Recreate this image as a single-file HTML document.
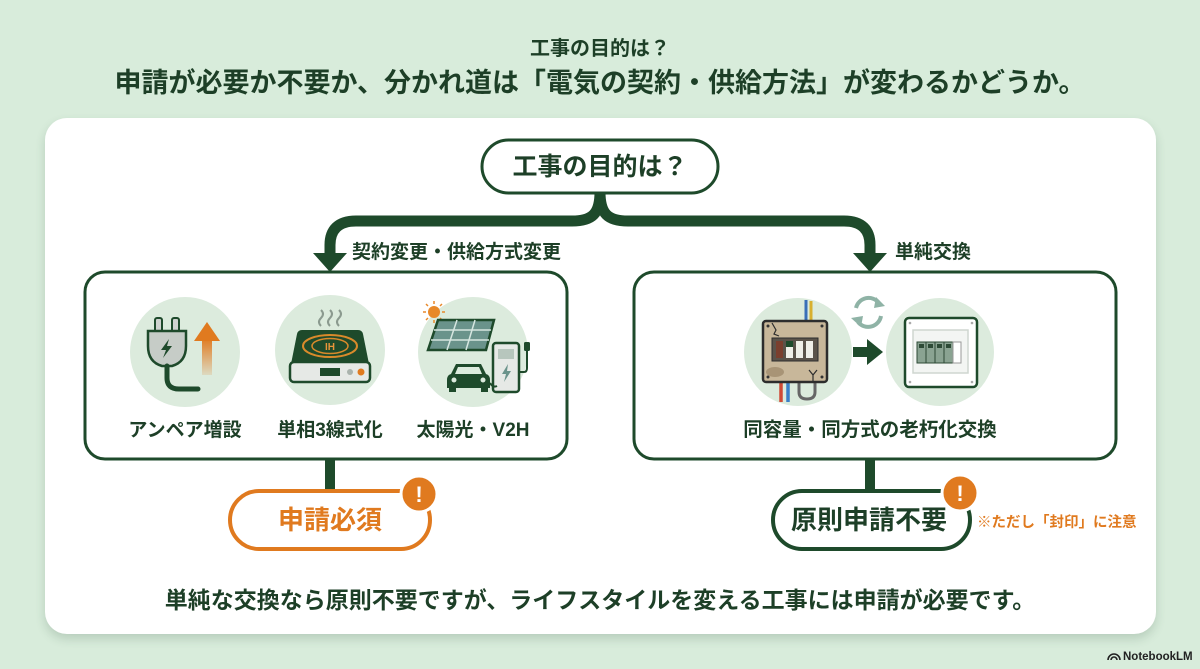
<!DOCTYPE html>
<html><head><meta charset="utf-8">
<style>
html,body{margin:0;padding:0;}
body{width:1200px;height:669px;overflow:hidden;background:#d8ecdb;position:relative;font-family:"Liberation Sans","Noto Sans CJK JP",sans-serif;}
.card{position:absolute;left:45px;top:118px;width:1111px;height:516px;border-radius:22px;background:#fff;box-shadow:0 5px 10px rgba(40,70,50,0.18);}
svg{position:absolute;left:0;top:0;}
text{font-family:"Liberation Sans","Noto Sans CJK JP",sans-serif;font-weight:700;}
</style></head><body>
<div class="card"></div>
<svg width="1200" height="669" viewBox="0 0 1200 669">
  <!-- Titles -->
  <text x="600" y="55" font-size="20" fill="#1d3f27" text-anchor="middle">工事の目的は？</text>
  <text x="600" y="92" font-size="27" fill="#1d3f27" text-anchor="middle">申請が必要か不要か、分かれ道は「電気の契約・供給方法」が変わるかどうか。</text>

  <!-- top connector -->
  <g stroke="#1e4a2b" stroke-width="11" fill="none">
    <path d="M600,192 C600,214 592,221 572,221 L356,221 C338,221 330,230 330,245 L330,255"/>
    <path d="M600,192 C600,214 608,221 628,221 L844,221 C862,221 870,230 870,245 L870,255"/>
  </g>
  <polygon points="313,253 347,253 330,272" fill="#1e4a2b"/>
  <polygon points="853,253 887,253 870,272" fill="#1e4a2b"/>

  <!-- top pill -->
  <rect x="482" y="140" width="236" height="53" rx="26.5" fill="#fff" stroke="#1e4a2b" stroke-width="3"/>
  <text x="600" y="175" font-size="25" fill="#1d3f27" text-anchor="middle">工事の目的は？</text>

  <!-- branch labels -->
  <text x="352" y="258" font-size="19" fill="#1d3f27">契約変更・供給方式変更</text>
  <text x="895" y="258" font-size="19" fill="#1d3f27">単純交換</text>

  <!-- boxes -->
  <rect x="85" y="272" width="482" height="187" rx="20" fill="#fff" stroke="#1e4a2b" stroke-width="3"/>
  <rect x="634" y="272" width="482" height="187" rx="20" fill="#fff" stroke="#1e4a2b" stroke-width="3"/>

  <!-- circles -->
  <g fill="#dcebdd">
    <circle cx="185" cy="352" r="55"/>
    <circle cx="330" cy="350" r="55"/>
    <circle cx="473" cy="352" r="55"/>
    <circle cx="798" cy="352" r="54"/>
    <circle cx="940" cy="352" r="54"/>
  </g>

  <!-- plug icon -->
  <defs>
    <linearGradient id="og" x1="0" y1="0" x2="0" y2="1">
      <stop offset="0" stop-color="#e07a1f"/>
      <stop offset="1" stop-color="#e07a1f" stop-opacity="0.15"/>
    </linearGradient>
  </defs>
  <rect x="155" y="318" width="7" height="15" rx="2" fill="#cfd3cf" stroke="#1e4a2b" stroke-width="2"/>
  <rect x="172" y="318" width="7" height="15" rx="2" fill="#cfd3cf" stroke="#1e4a2b" stroke-width="2"/>
  <path d="M148,331 H186 V346 Q186,362 172,366 H162 Q148,362 148,346 Z" fill="#c6ccc7" stroke="#1e4a2b" stroke-width="2.5"/>
  <polygon points="169,339 161,350 166,350 163,358 172,346 167,346" fill="#1e4a2b"/>
  <path d="M167,366 V378 Q167,389 179,389 H198" stroke="#1e4a2b" stroke-width="5" fill="none" stroke-linecap="round"/>
  <rect x="202" y="338" width="10" height="37" fill="url(#og)"/>
  <polygon points="194,341 220,341 207,322" fill="#e07a1f"/>

  <!-- IH icon -->
  <g stroke="#8b9a8f" stroke-width="2" fill="none">
    <path d="M321,326 q-4,-4 0,-8 q4,-4 0,-8"/>
    <path d="M330,326 q-4,-4 0,-8 q4,-4 0,-8"/>
    <path d="M339,326 q-4,-4 0,-8 q4,-4 0,-8"/>
  </g>
  <path d="M302,330 H358 Q362,330 363,334 L369,364 H291 L297,334 Q298,330 302,330 Z" fill="#1e4a2b"/>
  <ellipse cx="330" cy="346" rx="27" ry="11" fill="none" stroke="#d98a2b" stroke-width="2"/>
  <ellipse cx="330" cy="346" rx="18" ry="7.5" fill="none" stroke="#d98a2b" stroke-width="1.5"/>
  <text x="330" y="350" font-size="10" fill="#e8953a" text-anchor="middle">IH</text>
  <rect x="290" y="362" width="80" height="20" rx="4" fill="#e6e9e6" stroke="#1e4a2b" stroke-width="2.5"/>
  <rect x="320" y="368" width="20" height="8" fill="#1e4a2b"/>
  <circle cx="350" cy="372" r="3" fill="#aab3ad"/>
  <circle cx="361" cy="372" r="3.5" fill="#e07a1f"/>

  <!-- solar / V2H -->
  <circle cx="434" cy="312" r="6" fill="#e8892a"/>
  <g stroke="#e8892a" stroke-width="1.5">
    <line x1="434" y1="301" x2="434" y2="304"/><line x1="434" y1="320" x2="434" y2="323"/>
    <line x1="423" y1="312" x2="426" y2="312"/><line x1="442" y1="312" x2="445" y2="312"/>
    <line x1="426" y1="304" x2="428" y2="306"/><line x1="440" y1="318" x2="442" y2="320"/>
    <line x1="442" y1="304" x2="440" y2="306"/><line x1="426" y1="320" x2="428" y2="318"/>
  </g>
  <polygon points="438,320 494,320 486,350 428,350" fill="#6a938b" stroke="#1e4a2b" stroke-width="2.5"/>
  <g stroke="#d6e6e0" stroke-width="1.5">
    <line x1="457" y1="320" x2="447" y2="350"/><line x1="475" y1="320" x2="466" y2="350"/>
    <line x1="434" y1="330" x2="491" y2="330"/><line x1="431" y1="340" x2="489" y2="340"/>
  </g>
  <rect x="493" y="343" width="26" height="49" rx="3" fill="#e6e9e6" stroke="#1e4a2b" stroke-width="2.5"/>
  <rect x="498" y="349" width="16" height="10" fill="#b7c6bd"/>
  <polygon points="508,364 502,374 506,374 504,382 511,371 507,371" fill="#6a938b"/>
  <path d="M519,372 H524 Q527,372 527,368 V350" stroke="#1e4a2b" stroke-width="2" fill="none"/>
  <rect x="524" y="342" width="6" height="9" rx="1.5" fill="#1e4a2b"/>
  <path d="M451,374 L456,364 H481 L486,374 Q490,375 490,380 V388 H447 V380 Q447,375 451,374 Z" fill="#1e4a2b"/>
  <rect x="449" y="386" width="7" height="6" fill="#1e4a2b"/><rect x="481" y="386" width="7" height="6" fill="#1e4a2b"/>
  <path d="M458,367 H479 L482,374 H455 Z" fill="#dcebdd"/>
  <circle cx="454" cy="380" r="2.5" fill="#dcebdd"/><circle cx="483" cy="380" r="2.5" fill="#dcebdd"/>
  <path d="M490,383 Q493,388 497,386" stroke="#1e4a2b" stroke-width="2" fill="none"/>

  <!-- icon labels -->
  <text x="185" y="436" font-size="19" fill="#1d3f27" text-anchor="middle">アンペア増設</text>
  <text x="330" y="436" font-size="19" fill="#1d3f27" text-anchor="middle">単相3線式化</text>
  <text x="473" y="436" font-size="19" fill="#1d3f27" text-anchor="middle">太陽光・V2H</text>

  <!-- old breaker -->
  <path d="M806,321 V300" stroke="#3a6fb8" stroke-width="3" fill="none"/>
  <path d="M811,321 V301" stroke="#d8b030" stroke-width="3" fill="none"/>
  <path d="M781,382 V402" stroke="#d04a35" stroke-width="3.5"/>
  <path d="M788,382 V402" stroke="#3a7fc8" stroke-width="3.5"/>
  <path d="M799,382 V392 Q799,399 807,399 Q815,399 815,392 V382" stroke="#666" stroke-width="3" fill="none"/>
  <rect x="763" y="321" width="64" height="61" rx="3" fill="#c8b79a" stroke="#2d2d2d" stroke-width="2.5"/>
  <ellipse cx="775" cy="372" rx="9" ry="5" fill="#a89476"/>
  <path d="M772,323 L776,330 L774,334 L779,336" stroke="#2d2d2d" stroke-width="1.2" fill="none"/>
  <path d="M813,381 V375 L809,370 M813,375 L817,370" stroke="#2d2d2d" stroke-width="1.2" fill="none"/>
  <circle cx="768" cy="326" r="1.5" fill="#333"/><circle cx="822" cy="326" r="1.5" fill="#333"/>
  <circle cx="768" cy="377" r="1.5" fill="#333"/><circle cx="822" cy="377" r="1.5" fill="#333"/>
  <rect x="772" y="338" width="46" height="23" fill="#5b534a" stroke="#2d2d2d" stroke-width="1"/>
  <rect x="776" y="341" width="7" height="17" fill="#7a3f2e"/>
  <rect x="786" y="341" width="7" height="17" fill="#f0efe8"/><rect x="786" y="341" width="7" height="6" fill="#1e4a2b"/>
  <rect x="796" y="341" width="7" height="17" fill="#f0efe8"/>
  <rect x="806" y="341" width="7" height="17" fill="#f0efe8"/>

  <!-- arrow between -->
  <rect x="853" y="347" width="16" height="10" fill="#1e4a2b"/>
  <polygon points="867,339 867,365 883,352" fill="#1e4a2b"/>

  <!-- refresh icon -->
  <g stroke="#8fb3a6" stroke-width="4" fill="none">
    <path d="M856,308 A13,13 0 0 1 879,303"/>
    <path d="M881,316 A13,13 0 0 1 858,322"/>
  </g>
  <polygon points="876,297 885,306 874,308" fill="#8fb3a6"/>
  <polygon points="861,327 851,318 863,316" fill="#8fb3a6"/>

  <!-- new breaker -->
  <rect x="905" y="318" width="72" height="69" rx="4" fill="#fff" stroke="#1e4a2b" stroke-width="2.5"/>
  <rect x="913" y="330" width="55" height="43" fill="#f3f5f3" stroke="#cfd6d0" stroke-width="1.5"/>
  <g fill="#8aa392" stroke="#2d4a36" stroke-width="1">
    <rect x="917" y="342" width="9" height="21"/><rect x="926" y="342" width="9" height="21"/>
    <rect x="935" y="342" width="9" height="21"/><rect x="944" y="342" width="9" height="21"/>
  </g>
  <g fill="#2d4a36">
    <rect x="919" y="344" width="5" height="4"/><rect x="928" y="344" width="5" height="4"/>
    <rect x="937" y="344" width="5" height="4"/><rect x="946" y="344" width="5" height="4"/>
  </g>
  <rect x="953" y="342" width="8" height="21" fill="#fff" stroke="#999" stroke-width="1"/>
  <circle cx="910" cy="323" r="1.3" fill="#aaa"/><circle cx="972" cy="323" r="1.3" fill="#aaa"/>
  <circle cx="910" cy="382" r="1.3" fill="#aaa"/><circle cx="972" cy="382" r="1.3" fill="#aaa"/>

  <text x="870" y="436" font-size="19.5" fill="#1d3f27" text-anchor="middle">同容量・同方式の老朽化交換</text>

  <!-- lower connectors -->
  <rect x="325" y="459" width="10" height="33" fill="#1e4a2b"/>
  <rect x="865" y="459" width="10" height="33" fill="#1e4a2b"/>

  <!-- orange pill -->
  <rect x="230" y="491" width="200" height="58" rx="29" fill="#fff" stroke="#e07a1f" stroke-width="4"/>
  <text x="330" y="529" font-size="26" fill="#e07a1f" text-anchor="middle">申請必須</text>
  <circle cx="419" cy="494" r="18" fill="#e07a1f" stroke="#fff" stroke-width="3"/>
  <text x="419" y="502" font-size="22" fill="#fff" text-anchor="middle">!</text>

  <!-- green pill -->
  <rect x="773" y="491" width="197" height="58" rx="29" fill="#fff" stroke="#1e4a2b" stroke-width="4"/>
  <text x="869" y="529" font-size="26" fill="#1d3f27" text-anchor="middle">原則申請不要</text>
  <circle cx="960" cy="493" r="18" fill="#e07a1f" stroke="#fff" stroke-width="3"/>
  <text x="960" y="501" font-size="22" fill="#fff" text-anchor="middle">!</text>
  <text x="977" y="527" font-size="14.5" fill="#e07a1f">※ただし「封印」に注意</text>

  <!-- bottom text -->
  <text x="600" y="608" font-size="23" fill="#1d3f27" text-anchor="middle">単純な交換なら原則不要ですが、ライフスタイルを変える工事には申請が必要です。</text>

  <!-- NotebookLM -->
  <g fill="none" stroke="#222" stroke-width="1.6">
    <path d="M1108,660 A6,6 0 0 1 1120,660"/>
    <path d="M1111,660 A3,3 0 0 1 1117,660"/>
  </g>
  <text x="1123" y="660" font-size="11.5" fill="#222" font-family="Liberation Sans, sans-serif">NotebookLM</text>
</svg>
</body></html>
